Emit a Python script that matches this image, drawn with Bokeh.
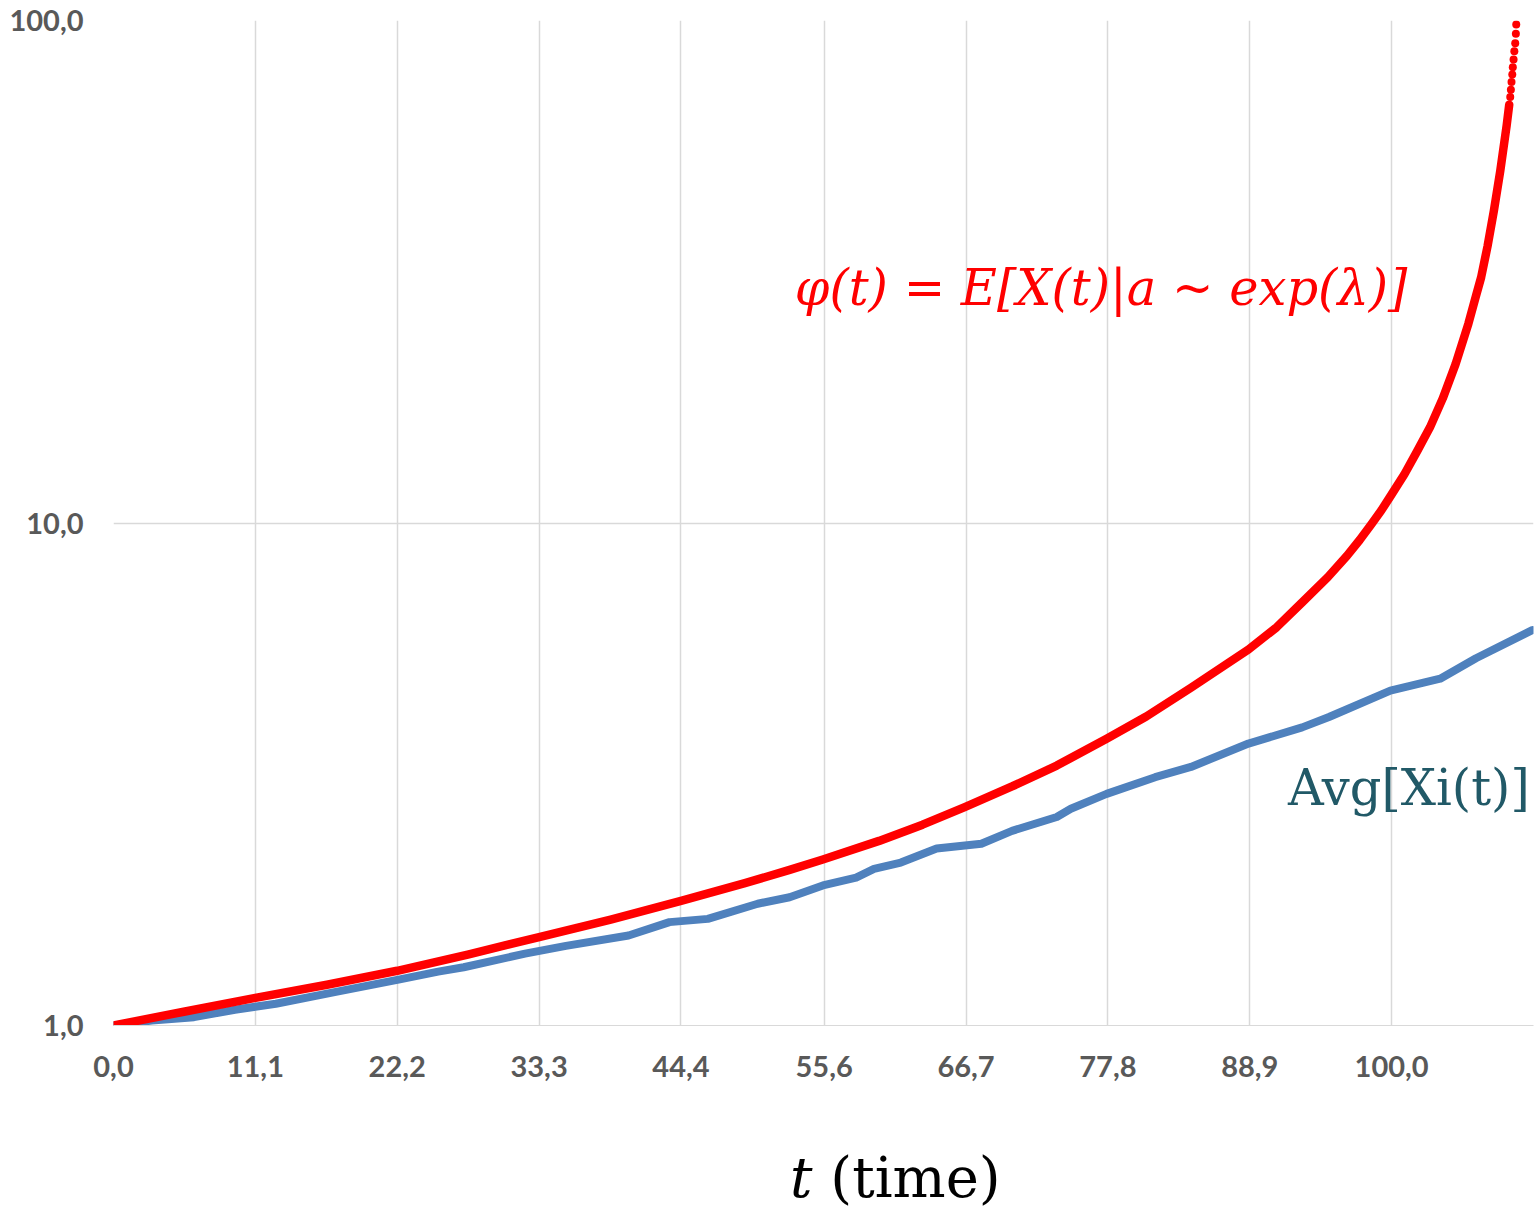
from bokeh.plotting import figure
from bokeh.models import FixedTicker, CustomJSTickFormatter, Range1d, Label, Div
from bokeh.layouts import column
from bokeh.embed import file_html
from bokeh.resources import INLINE

# ---- data ----
x_ticks = [0.0, 11.1, 22.2, 33.3, 44.4, 55.6, 66.7, 77.8, 88.9, 100.0]
y_ticks = [1.0, 10.0, 100.0]

# phi(t) = E[X(t) | a ~ exp(lambda)]  (red)
red_t = [0.0, 5.5, 11.1, 16.7, 22.2, 27.8, 33.3, 38.9, 44.4, 49.4, 52.9, 55.5, 59.9,
         63.3, 66.6, 70.3, 73.8, 77.7, 80.8, 84.3, 88.8, 91.0, 93.0, 95.0, 96.5, 97.5,
         98.4, 99.2, 100.0, 101.0, 102.0, 103.0, 104.0, 105.0, 106.0, 106.6, 107.0,
         107.5, 108.0, 108.5, 109.0, 109.2]
red_v = [1.0, 1.065, 1.135, 1.205, 1.285, 1.385, 1.50, 1.625, 1.77, 1.92, 2.04, 2.14, 2.33,
         2.51, 2.72, 2.99, 3.29, 3.72, 4.12, 4.70, 5.60, 6.20, 6.95, 7.80, 8.60, 9.25,
         9.93, 10.6, 11.4, 12.5, 13.9, 15.5, 17.7, 20.7, 24.9, 28.3, 30.8,
         35.5, 41.8, 50.2, 61.8, 68.0]
# separate dots at the top end of the red series
red_tail_t = [109.28, 109.33, 109.38, 109.44, 109.48, 109.54, 109.60, 109.67, 109.72, 109.75]
red_tail_v = [70.4, 72.8, 75.4, 78.1, 80.7, 83.6, 86.9, 90.1, 94.1, 98.2]

# Avg[Xi(t)]  (blue)
blue_t = [0.0, 3.0, 6.3, 9.5, 12.7, 17.3, 22.4, 25.4, 27.4, 32.2, 35.4, 40.3, 43.5, 46.5,
          50.4, 52.9, 55.5, 58.1, 59.5, 61.6, 64.4, 67.9, 70.3, 73.8, 74.9, 77.7, 81.5,
          84.3, 88.8, 93.0, 95.1, 99.9, 103.8, 106.6, 111.0]
blue_v = [1.0, 1.023, 1.039, 1.075, 1.105, 1.165, 1.235, 1.28, 1.306, 1.39, 1.44, 1.51, 1.606, 1.63,
          1.747, 1.80, 1.90, 1.97, 2.05, 2.11, 2.25, 2.30, 2.44, 2.60, 2.70, 2.89, 3.12,
          3.27, 3.64, 3.92, 4.11, 4.64, 4.90, 5.38, 6.12]

RED = "#FF0000"
BLUE = "#4F81BD"
GRID = "#D9D9D9"
TICK_TXT = "#595959"
SERIF = "DejaVu Serif"

p = figure(width=1537, height=1120, x_range=Range1d(0, 111.1), y_range=Range1d(1, 100),
           y_axis_type="log", output_backend="svg", toolbar_location=None,
           min_border_left=113, min_border_right=4, min_border_top=20, min_border_bottom=95)
p.outline_line_color = None
p.background_fill_color = "white"
p.border_fill_color = "white"

fmt = CustomJSTickFormatter(code="return tick.toFixed(1).replace('.', ',');")
p.xaxis.ticker = FixedTicker(ticks=x_ticks)
p.yaxis.ticker = FixedTicker(ticks=y_ticks)
p.xgrid.ticker = FixedTicker(ticks=x_ticks)
p.ygrid.ticker = FixedTicker(ticks=y_ticks)
p.xaxis.formatter = fmt
p.yaxis.formatter = fmt

for ax in (p.xaxis, p.yaxis):
    ax.major_tick_line_color = None
    ax.minor_tick_line_color = None
    ax.major_tick_out = 0
    ax.major_tick_in = 0
    ax.major_label_text_font = "Lato"
    ax.major_label_text_font_style = "bold"
    ax.major_label_text_font_size = "29px"
    ax.major_label_text_color = TICK_TXT
p.xaxis.axis_line_color = GRID
p.yaxis.axis_line_color = None
p.xaxis.major_label_standoff = 30
p.yaxis.major_label_standoff = 30

for g in (p.xgrid, p.ygrid):
    g.grid_line_color = GRID
    g.grid_line_width = 1.5

p.line(blue_t, blue_v, line_color=BLUE, line_width=8, line_join="round", line_cap="round")
p.line(red_t, red_v, line_color=RED, line_width=8.5, line_join="round", line_cap="round")
p.scatter(red_tail_t, red_tail_v, size=8, fill_color=RED, line_color=None)

p.add_layout(Label(x=53.3, y=10 ** ((1025 - 287) / 502.5), text="φ(t) =  E[X(t)|a ~ exp(λ)]",
                   text_font=SERIF, text_font_style="italic", text_font_size="49.5px",
                   text_color=RED, text_baseline="alphabetic", text_align="left"))
p.add_layout(Label(x=91.9, y=10 ** ((1025 - 787) / 502.5), text="Avg[Xi(t)]",
                   text_font=SERIF, text_font_size="49.5px",
                   text_color="#215967", text_baseline="alphabetic", text_align="left"))

# x-axis title below the chart: italic t followed by upright (time)
title_html = ('<div style="position:relative;width:1537px;height:89px;overflow:hidden;">'
              '<span style="position:absolute;left:790px;top:30px;font-family:\'DejaVu Serif\';'
              'font-size:56px;line-height:56px;color:#000000;white-space:nowrap;">'
              '<i>t</i>&nbsp;(time)</span></div>')
xtitle = Div(text=title_html, width=1537, height=89, margin=0)

layout = column(p, xtitle, spacing=0, margin=0)

open("out.html", "w").write(file_html(layout, INLINE))
